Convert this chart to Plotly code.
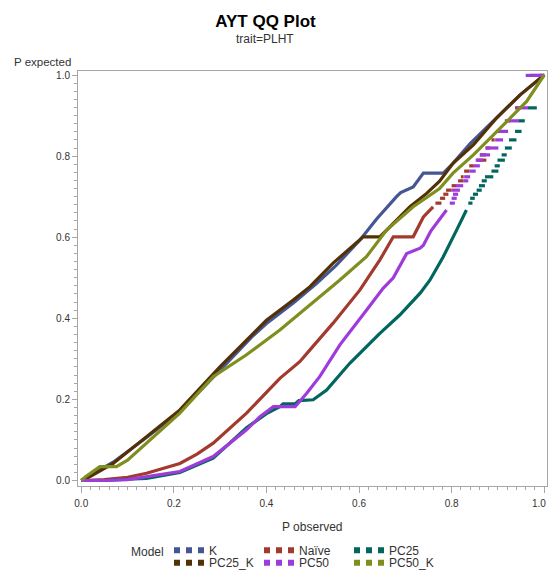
import plotly.graph_objects as go

# ---------------- data ----------------
models = ["K", "Naïve", "PC25", "PC25_K", "PC50", "PC50_K"]
colors = ["#445694", "#A23A2E", "#01665E", "#543005", "#9D3CDB", "#7F8E1F"]

k_x = [0.0, 0.03, 0.069, 0.141, 0.213, 0.30, 0.371, 0.40, 0.458, 0.508, 0.55, 0.602,
       0.638, 0.681, 0.69, 0.717, 0.739, 0.782, 0.803, 0.84, 0.897, 0.948, 1.0]
k_y = [0.0, 0.02, 0.045, 0.106, 0.170, 0.272, 0.357, 0.387, 0.438, 0.486, 0.53, 0.593,
       0.645, 0.70, 0.71, 0.724, 0.758, 0.758, 0.782, 0.831, 0.894, 0.951, 1.0]

naive_x = [0.0, 0.05, 0.10, 0.141, 0.213, 0.25, 0.285, 0.357, 0.429, 0.472, 0.494,
           0.544, 0.602, 0.616, 0.645, 0.674, 0.717, 0.739, 0.76]
naive_y = [0.0, 0.002, 0.008, 0.018, 0.042, 0.065, 0.092, 0.166, 0.252, 0.293, 0.322,
           0.388, 0.47, 0.494, 0.544, 0.601, 0.601, 0.65, 0.675]

pc25_x = [0.0, 0.05, 0.10, 0.141, 0.213, 0.285, 0.357, 0.40, 0.429, 0.436, 0.462, 0.47,
          0.501, 0.53, 0.58, 0.645, 0.688, 0.732, 0.753, 0.782, 0.811, 0.832]
pc25_y = [0.0, 0.0, 0.003, 0.005, 0.02, 0.055, 0.13, 0.165, 0.182, 0.189, 0.189, 0.197,
          0.199, 0.223, 0.289, 0.363, 0.408, 0.462, 0.494, 0.552, 0.618, 0.667]

pc25k_x = [0.0, 0.02, 0.069, 0.141, 0.213, 0.30, 0.371, 0.40, 0.458, 0.494, 0.544, 0.609,
           0.645, 0.667, 0.71, 0.746, 0.774, 0.803, 0.847, 0.897, 0.948, 1.0]
pc25k_y = [0.0, 0.01, 0.042, 0.108, 0.174, 0.281, 0.363, 0.395, 0.445, 0.478, 0.536, 0.601,
           0.601, 0.626, 0.675, 0.708, 0.738, 0.782, 0.828, 0.894, 0.951, 1.0]

pc50_x = [0.0, 0.05, 0.10, 0.141, 0.213, 0.285, 0.357, 0.386, 0.415, 0.462, 0.487, 0.515,
          0.559, 0.616, 0.652, 0.674, 0.696, 0.703, 0.732, 0.739, 0.755, 0.768, 0.789]
pc50_y = [0.0, 0.0, 0.002, 0.009, 0.022, 0.059, 0.125, 0.157, 0.182, 0.182, 0.215, 0.256,
          0.335, 0.42, 0.474, 0.50, 0.544, 0.56, 0.573, 0.58, 0.615, 0.635, 0.667]

pc50k_x = [0.0, 0.01, 0.04, 0.076, 0.10, 0.141, 0.213, 0.285, 0.357, 0.429, 0.472, 0.494,
           0.53, 0.558, 0.616, 0.66, 0.717, 0.76, 0.774, 0.803, 0.847, 0.919, 0.962, 1.0]
pc50k_y = [0.0, 0.01, 0.034, 0.034, 0.05, 0.092, 0.166, 0.256, 0.31, 0.371, 0.412, 0.433,
           0.465, 0.494, 0.552, 0.618, 0.675, 0.708, 0.72, 0.758, 0.803, 0.885, 0.935, 1.0]

# tied P-expected levels in the upper part, with the P-observed run of each series
levels = [0.999, 0.919, 0.887, 0.861, 0.840, 0.820, 0.803, 0.790, 0.776, 0.763,
          0.749, 0.739, 0.727, 0.716, 0.706, 0.696, 0.684]
naive_run_start = [0.970, 0.937, 0.915, 0.897, 0.886, 0.873, 0.861, 0.855, 0.838, 0.827,
                   0.820, 0.814, 0.800, 0.788, 0.782, 0.775, 0.765]
naive_run_end = [1.000, 0.948, 0.926, 0.904, 0.893, 0.883, 0.874, 0.875, 0.848, 0.838,
                 0.826, 0.825, 0.810, 0.800, 0.793, 0.786, 0.778]
pc25_run_start = [0.990, 0.965, 0.944, 0.937, 0.924, 0.915, 0.908, 0.899, 0.893, 0.886,
                  0.872, 0.865, 0.859, 0.854, 0.846, 0.840, 0.836]
pc25_run_end = [1.000, 0.984, 0.958, 0.951, 0.940, 0.930, 0.919, 0.915, 0.904, 0.901,
                0.890, 0.876, 0.872, 0.865, 0.857, 0.850, 0.845]
pc50_run_start = [0.960, 0.940, 0.919, 0.903, 0.894, 0.874, 0.861, 0.852, 0.848, 0.838,
                  0.827, 0.825, 0.809, 0.800, 0.803, 0.800, 0.796]
pc50_run_end = [1.000, 0.965, 0.945, 0.922, 0.911, 0.901, 0.883, 0.868, 0.861, 0.852,
                0.840, 0.836, 0.825, 0.818, 0.814, 0.811, 0.807]

x_ticks = [0.0, 0.2, 0.4, 0.6, 0.8, 1.0]
x_tick_labels = ["0.0", "0.2", "0.4", "0.6", "0.8", "1.0"]
y_ticks = [0.0, 0.2, 0.4, 0.6, 0.8, 1.0]

# ---------------- build ----------------
def with_runs(cx, cy, starts=None, ends=None):
    xs, ys = list(cx), list(cy)
    if starts is not None:
        for lv, s, e in zip(levels, starts, ends):
            xs += [None, s, e]
            ys += [None, lv, lv]
    return xs, ys

series = [
    with_runs(k_x, k_y),
    with_runs(naive_x, naive_y, naive_run_start, naive_run_end),
    with_runs(pc25_x, pc25_y, pc25_run_start, pc25_run_end),
    with_runs(pc25k_x, pc25k_y),
    with_runs(pc50_x, pc50_y, pc50_run_start, pc50_run_end),
    with_runs(pc50k_x, pc50k_y),
]

fig = go.Figure()
for name, col, (xs, ys) in zip(models, colors, series):
    fig.add_trace(go.Scatter(x=xs, y=ys, mode="lines", name=name,
                             line=dict(color=col, width=3.2),
                             connectgaps=False, showlegend=False, hoverinfo="skip"))

# legend entries (three-dot symbol)
for i, (name, col) in enumerate(zip(models, colors)):
    fig.add_trace(go.Scatter(x=[None], y=[None], mode="lines", name=name,
                             line=dict(color=col, width=6, dash="dot"),
                             legend="legend" if i < 3 else "legend2",
                             showlegend=True))

font_family = "Liberation Sans, Arial, sans-serif"
axis_col = "#a6a6a6"
text_col = "#333333"

common_axis = dict(showline=True, linecolor=axis_col, linewidth=1, mirror=True,
                   showgrid=False, zeroline=False, ticks="outside",
                   tickcolor=axis_col, tickwidth=1,
                   tickfont=dict(size=10, color=text_col, family=font_family),
                   minor=dict(ticks="outside", ticklen=3, dtick=0.02,
                              tickcolor=axis_col, tickwidth=1, showgrid=False))

legend_common = dict(orientation="h", xref="container", yref="container",
                     x=0.3084, xanchor="left", yanchor="middle",
                     entrywidth=45, entrywidthmode="pixels", bgcolor="rgba(0,0,0,0)",
                     font=dict(size=12, color=text_col, family=font_family),
                     tracegroupgap=0, itemclick=False, itemdoubleclick=False)

# the last x tick label sits against the right edge: draw it right-aligned
x_ticktext = x_tick_labels[:-1] + [""]

fig.update_layout(
    width=548, height=571,
    margin=dict(l=78, r=1, t=71, b=85, autoexpand=False),
    paper_bgcolor="white", plot_bgcolor="white",
    font=dict(family=font_family, color=text_col),
    title=dict(text="<b>AYT QQ Plot</b>", xref="container", yref="container",
               x=0.4845, y=0.9636, xanchor="center", yanchor="middle",
               font=dict(size=17, color="black", family=font_family)),
    xaxis=dict(range=[-0.007, 1.006], tickvals=x_ticks, ticktext=x_ticktext, ticklen=6,
               ticklabelstandoff=2, **common_axis),
    yaxis=dict(range=[-0.0136, 1.0099], tickvals=y_ticks, tickformat=".1f", ticklen=5,
               **common_axis),
    legend=dict(y=0.0365, **legend_common),
    legend2=dict(y=0.0145, **legend_common),
    annotations=[
        dict(text="trait=PLHT", xref="paper", yref="paper", x=0.3987, y=1.0783,
             xanchor="center", yanchor="middle", showarrow=False,
             font=dict(size=12, color=text_col)),
        dict(text="P expected", xref="paper", yref="paper", x=-0.1414, y=1.0224,
             xanchor="left", yanchor="middle", showarrow=False,
             font=dict(size=11.5, color=text_col)),
        dict(text="P observed", xref="paper", yref="paper", x=0.499, y=-0.0988,
             xanchor="center", yanchor="middle", showarrow=False,
             font=dict(size=12, color=text_col)),
        dict(text="Model", xref="paper", yref="paper", x=0.1094, y=-0.1583,
             xanchor="left", yanchor="middle", showarrow=False,
             font=dict(size=12, color=text_col)),
        dict(text=x_tick_labels[-1], xref="paper", yref="paper", x=1.0015, y=-0.041,
             xanchor="right", yanchor="middle", showarrow=False,
             font=dict(size=10, color=text_col, family=font_family)),
    ],
)

fig.write_html("out.html")
